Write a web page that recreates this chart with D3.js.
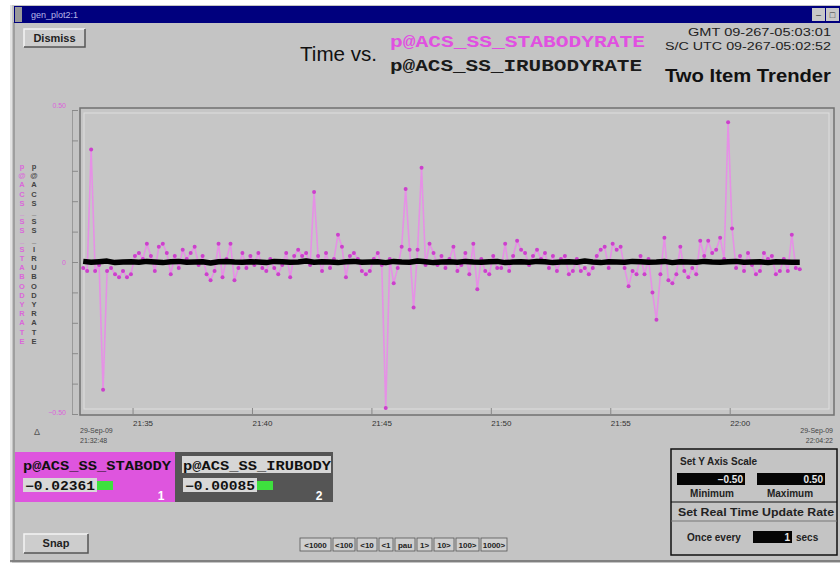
<!DOCTYPE html>
<html>
<head>
<meta charset="utf-8">
<script src="https://cdn.jsdelivr.net/npm/d3@7"></script>
<style>
  html, body { margin: 0; padding: 0; background: #ffffff; }
  svg { display: block; }
  text { font-family: "Liberation Sans", Arial, sans-serif; }
  .mono { font-family: "Liberation Mono", "DejaVu Sans Mono", monospace; font-weight: bold; }
</style>
</head>
<body>
<svg id="chart" width="840" height="564"></svg>
<script>
// ---- telemetry items ----
const itemNames = ["p@ACS_SS_STABODYRATE", "p@ACS_SS_IRUBODYRATE"];
const itemShort = ["p@ACS_SS_STABODY", "p@ACS_SS_IRUBODY"];

// time window of the trend plot (29-Sep-2009)
const windowStart = [2009, 8, 29, 21, 32, 48];
const windowEnd   = [2009, 8, 29, 22, 4, 22];

// STA body rate samples, every 10 s from 21:32:56
const staStart = [2009, 8, 29, 21, 32, 56];
const staStepSec = 10;
const staValues = [
  -0.02,-0.03, 0.37,-0.03,-0.01,-0.42,-0.03,-0.02,-0.04,-0.05,
  -0.03,-0.05,-0.04, 0.02, 0.03, 0.01, 0.06, 0.02,-0.03, 0.05,
   0.06, 0.03,-0.04, 0.02,-0.02, 0.04, 0.01, 0.03, 0.05,-0.01,
   0.02,-0.04,-0.06,-0.03, 0.06,-0.05, 0.01, 0.06,-0.06,-0.02,
   0.03,-0.02, 0.02,-0.01, 0.03,-0.02,-0.03, 0.01,-0.02,-0.04,
  -0.01, 0.03,-0.05, 0.02, 0.04, 0.02, 0.03,-0.01, 0.23, 0.02,
  -0.03, 0.03,-0.02, 0.01, 0.09, 0.05,-0.05, 0.02, 0.03, 0.01,
  -0.03,-0.04,-0.03, 0.01, 0.03,-0.01,-0.48, 0.01,-0.07,-0.02,
   0.05, 0.24, 0.04,-0.15, 0.04, 0.31,-0.01, 0.06, 0.03,-0.01,
   0.02,-0.02, 0.01, 0.05,-0.03,-0.01, 0.03,-0.04, 0.06,-0.09,
   0.01,-0.03,-0.04, 0.02,-0.02,-0.02, 0.06,-0.03, 0.02, 0.07,
   0.04, 0.03,-0.01, 0.02, 0.04, 0.01, 0.03,-0.02, 0.02,-0.03,
   0.01, 0.02,-0.04,-0.03, 0.01,-0.03,-0.02,-0.04,-0.02, 0.02,
   0.04, 0.05,-0.02, 0.06, 0.04, 0.05,-0.02,-0.08,-0.03,-0.04,
   0.02,-0.04, 0.01,-0.10,-0.19,-0.04, 0.08,-0.06,-0.07,-0.04,
   0.05,-0.03,-0.05,-0.02,-0.04, 0.07, 0.02, 0.07, 0.03, 0.04,
   0.08, 0.01, 0.46, 0.11,-0.02, 0.02,-0.03, 0.03,-0.01,-0.04,
  -0.03, 0.03, 0.01, 0.02,-0.04,-0.03, 0.01,-0.03, 0.09,-0.02,
  -0.02361
];

// IRU body rate samples, every 20 s from 21:32:56
const iruStart = [2009, 8, 29, 21, 32, 56];
const iruStepSec = 20;
const iruValues = [
   0.002,-0.001, 0.001, 0.003,-0.002, 0.000, 0.001,-0.001, 0.002, 0.000,
  -0.002, 0.001, 0.002,-0.001, 0.000, 0.001,-0.003, 0.001, 0.002, 0.000,
  -0.001, 0.001, 0.000,-0.002, 0.002, 0.001,-0.001, 0.000, 0.003,-0.001,
   0.001, 0.000,-0.002, 0.001, 0.002,-0.001, 0.000, 0.001,-0.002, 0.002,
   0.000,-0.001, 0.003, 0.001,-0.002, 0.000, 0.001,-0.001, 0.002, 0.000,
  -0.001, 0.001, 0.002,-0.002, 0.000, 0.001,-0.001, 0.002, 0.001,-0.002,
   0.000, 0.001,-0.001, 0.003, 0.000,-0.002, 0.001, 0.000,-0.001, 0.002,
   0.001,-0.001, 0.000, 0.002,-0.002, 0.001, 0.000,-0.001, 0.002, 0.000,
  -0.001, 0.001, 0.002,-0.001, 0.000, 0.001,-0.002, 0.001, 0.000,-0.001,
  -0.00085
];

// y scale limits and header clocks
const yMin = -0.5, yMax = 0.5;
const yLabels = [0.5, 0, -0.5];
const gmtText = "GMT 09-267-05:03:01";
const scText = "S/C UTC 09-267-05:02:52";
const stepButtons = ["<1000", "<100", "<10", "<1", "pau", "1>", "10>", "100>", "1000>"];
const updateSecs = "1";

// ---- drawing ----
const mkDate = a => new Date(a[0], a[1], a[2], a[3], a[4], a[5]);
const staData = staValues.map((v, i) => ({ t: new Date(mkDate(staStart).getTime() + i * staStepSec * 1000), v }));
const iruData = iruValues.map((v, i) => ({ t: new Date(mkDate(iruStart).getTime() + i * iruStepSec * 1000), v }));

const svg = d3.select("#chart");
const GRAY = "#c4c4c4", PINK = "#de55de", PINK_TXT = "#e050e0";

// window body
svg.append("rect").attr("x", 10).attr("y", 5).attr("width", 830).attr("height", 558).attr("fill", GRAY);
svg.append("line").attr("x1", 11).attr("x2", 11).attr("y1", 5).attr("y2", 563).attr("stroke", "#eeeeee").attr("stroke-width", 1.5);
svg.append("line").attr("x1", 14).attr("x2", 14).attr("y1", 22).attr("y2", 560).attr("stroke", "#7a7a7a");
svg.append("line").attr("x1", 10).attr("x2", 840).attr("y1", 561).attr("y2", 561).attr("stroke", "#6a6a6a").attr("stroke-width", 1.5);

// title bar
svg.append("rect").attr("x", 14).attr("y", 6).attr("width", 826).attr("height", 17).attr("fill", "#00007e");
svg.append("rect").attr("x", 15).attr("y", 7).attr("width", 7).attr("height", 15).attr("fill", "#9a9a9a");
svg.append("text").attr("x", 31).attr("y", 18).attr("font-size", 9).attr("fill", "#b8b8e8").text("gen_plot2:1");
[[812, "–"], [826, "□"]].forEach(([bx, g]) => {
  svg.append("rect").attr("x", bx).attr("y", 8).attr("width", 13).attr("height", 13).attr("fill", "#c8c8c8");
  svg.append("text").attr("x", bx + 6.5).attr("y", 18).attr("font-size", 9).attr("text-anchor", "middle").attr("fill", "#333").text(g);
});

// bevelled button helper
function button(x, y, w, h, label, fs) {
  const g = svg.append("g");
  g.append("rect").attr("x", x).attr("y", y).attr("width", w).attr("height", h).attr("fill", "#cdcdcd");
  g.append("path").attr("d", `M${x},${y + h}V${y}H${x + w}`).attr("fill", "none").attr("stroke", "#f4f4f4").attr("stroke-width", 1.5);
  g.append("path").attr("d", `M${x},${y + h}H${x + w}V${y}`).attr("fill", "none").attr("stroke", "#555").attr("stroke-width", 1.5);
  g.append("text").attr("x", x + w / 2).attr("y", y + h / 2 + fs * 0.36).attr("text-anchor", "middle")
    .attr("font-size", fs).attr("font-weight", "bold").attr("fill", "#222")
    .attr("font-family", "'Liberation Serif', serif").text(label);
}
button(24, 29, 61, 18, "Dismiss", 11);
button(24, 534, 64, 19, "Snap", 11);

// header
svg.append("text").attr("x", 300).attr("y", 61).attr("font-size", 20).attr("fill", "#111")
  .attr("textLength", 77).attr("lengthAdjust", "spacingAndGlyphs").text("Time vs.");
svg.append("text").attr("class", "mono").attr("x", 390).attr("y", 47).attr("font-size", 17).attr("fill", PINK_TXT)
  .attr("textLength", 255).attr("lengthAdjust", "spacingAndGlyphs").text(itemNames[0]);
svg.append("text").attr("class", "mono").attr("x", 390).attr("y", 71).attr("font-size", 17).attr("fill", "#1a1a1a")
  .attr("textLength", 252).attr("lengthAdjust", "spacingAndGlyphs").text(itemNames[1]);
svg.append("text").attr("x", 831).attr("y", 36).attr("font-size", 10).attr("text-anchor", "end").attr("fill", "#222")
  .attr("textLength", 143).attr("lengthAdjust", "spacingAndGlyphs").text(gmtText);
svg.append("text").attr("x", 831).attr("y", 50).attr("font-size", 10).attr("text-anchor", "end").attr("fill", "#222")
  .attr("textLength", 166).attr("lengthAdjust", "spacingAndGlyphs").text(scText);
svg.append("text").attr("x", 831).attr("y", 82).attr("font-size", 19).attr("font-weight", "bold").attr("text-anchor", "end").attr("fill", "#111")
  .attr("textLength", 166).attr("lengthAdjust", "spacingAndGlyphs").text("Two Item Trender");

// vertical item names along the left side
[[itemNames[0], 22, PINK_TXT], [itemNames[1], 34, "#222"]].forEach(([name, cx, col]) => {
  svg.append("g").selectAll("text").data(name.split("")).join("text")
    .attr("x", cx).attr("y", (d, i) => 169 + i * 9.2).attr("text-anchor", "middle")
    .attr("font-size", 7.5).attr("font-weight", "bold").attr("fill", col).attr("opacity", 0.8)
    .text(d => d);
});

// scales
const x = d3.scaleTime().domain([mkDate(windowStart), mkDate(windowEnd)]).range([80, 834]);
const y = d3.scaleLinear().domain([yMin, yMax]).range([414, 110]);

// plot frame
svg.append("rect").attr("x", 80).attr("y", 108).attr("width", 754).attr("height", 307)
  .attr("fill", "#c6c6c6").attr("stroke", "#707070").attr("stroke-width", 1.5);
svg.append("rect").attr("x", 84).attr("y", 113).attr("width", 745).attr("height", 296)
  .attr("fill", "none").attr("stroke", "#dedede").attr("stroke-width", 1);

// y axis (gray rule with ticks every 0.1)
const yAxis = svg.append("g").attr("transform", "translate(72,0)")
  .call(d3.axisRight(y).ticks(10).tickSize(6).tickFormat(""));
yAxis.select(".domain").attr("stroke", "#9a9a9a");
yAxis.selectAll(".tick line").attr("stroke", "#8a8a8a");
svg.append("g").selectAll("text").data(yLabels).join("text")
  .attr("x", 66).attr("y", d => y(d) + (d > 0 ? -2 : d < 0 ? 1 : 3)).attr("text-anchor", "end")
  .attr("font-size", 7).attr("fill", PINK_TXT).attr("opacity", 0.85)
  .text(d => d === 0 ? "0" : d3.format(".2f")(d));

// x axis: 5-minute ticks, labels starting at the tick
const xAxis = svg.append("g").attr("transform", "translate(0,415)")
  .call(d3.axisBottom(x).ticks(d3.timeMinute.every(5)).tickSize(-7).tickFormat(d3.timeFormat("%H:%M")));
xAxis.select(".domain").remove();
xAxis.selectAll(".tick line").attr("stroke", "#888");
xAxis.selectAll(".tick text").attr("text-anchor", "start").attr("x", 0).attr("dy", 0).attr("y", 11)
  .attr("font-size", 8).attr("fill", "#333").attr("font-family", "'Liberation Sans', sans-serif");

const dateFmt = d3.timeFormat("%d-%b-%y"), clockFmt = d3.timeFormat("%H:%M:%S");
[[mkDate(windowStart), 80, "start"], [mkDate(windowEnd), 833, "end"]].forEach(([d, tx, anchor]) => {
  svg.append("text").attr("x", tx).attr("y", 433).attr("font-size", 7).attr("text-anchor", anchor).attr("fill", "#444").text(dateFmt(d));
  svg.append("text").attr("x", tx).attr("y", 443).attr("font-size", 7).attr("text-anchor", anchor).attr("fill", "#444").text(clockFmt(d));
});
svg.append("text").attr("x", 37).attr("y", 435).attr("font-size", 9).attr("text-anchor", "middle").attr("fill", "#555").text("Δ");

// series
const line = d3.line().x(d => x(d.t)).y(d => y(d.v));
svg.append("path").datum(staData).attr("d", line).attr("fill", "none")
  .attr("stroke", "#e690e6").attr("stroke-width", 1.6);
svg.append("g").selectAll("circle").data(staData).join("circle")
  .attr("cx", d => x(d.t)).attr("cy", d => y(d.v)).attr("r", 2).attr("fill", "#cc40cc");
svg.append("path").datum(iruData).attr("d", line).attr("fill", "none")
  .attr("stroke", "#000").attr("stroke-width", 5.5).attr("stroke-linejoin", "round");

// current-value panels
const panels = [
  { x: 15, w: 160, bg: PINK, name: itemShort[0], val: staValues[staValues.length - 1], num: "1", labBg: null },
  { x: 175, w: 158, bg: "#555555", name: itemShort[1], val: iruValues[iruValues.length - 1], num: "2", labBg: "#d6d6d6" }
];
const valFmt = d3.format(".5f");
panels.forEach(p => {
  svg.append("rect").attr("x", p.x).attr("y", 452).attr("width", p.w).attr("height", 50).attr("fill", p.bg);
  if (p.labBg) svg.append("rect").attr("x", p.x + 7).attr("y", 456).attr("width", p.w - 9).attr("height", 17).attr("fill", p.labBg);
  svg.append("text").attr("class", "mono").attr("x", p.x + 8).attr("y", 470).attr("font-size", 12).attr("fill", "#111")
    .attr("textLength", 148).attr("lengthAdjust", "spacingAndGlyphs").text(p.name);
  svg.append("rect").attr("x", p.x + 8).attr("y", 478).attr("width", 74).attr("height", 14).attr("fill", "#d8d8d8");
  svg.append("rect").attr("x", p.x + 82).attr("y", 481).attr("width", 16).attr("height", 9).attr("fill", "#3ee03e");
  svg.append("text").attr("class", "mono").attr("x", p.x + 10).attr("y", 490).attr("font-size", 12).attr("fill", "#111")
    .attr("textLength", 70).attr("lengthAdjust", "spacingAndGlyphs").text(valFmt(p.val).replace("-", "−"));
  svg.append("text").attr("x", p.x + p.w - 14).attr("y", 500).attr("font-size", 12).attr("font-weight", "bold")
    .attr("fill", "#ffffff").attr("text-anchor", "middle").text(p.num);
});

// playback step buttons
const bw = [33, 24, 22, 16, 22, 17, 22, 25, 28];
let bx = 300;
stepButtons.forEach((lab, i) => {
  svg.append("rect").attr("x", bx).attr("y", 538).attr("width", bw[i] - 2).attr("height", 13)
    .attr("fill", "#cfcfcf").attr("stroke", "#555").attr("stroke-width", 0.8);
  svg.append("text").attr("x", bx + (bw[i] - 2) / 2).attr("y", 548).attr("text-anchor", "middle")
    .attr("font-size", 8).attr("font-weight", "bold").attr("fill", "#222").text(lab);
  bx += bw[i];
});

// y-axis scale / update-rate panel
svg.append("rect").attr("x", 671).attr("y", 449).attr("width", 166).attr("height", 106)
  .attr("fill", "none").attr("stroke", "#111").attr("stroke-width", 1.5);
svg.append("line").attr("x1", 671).attr("x2", 837).attr("y1", 502).attr("y2", 502).attr("stroke", "#111").attr("stroke-width", 1.2);
svg.append("line").attr("x1", 671).attr("x2", 837).attr("y1", 521).attr("y2", 521).attr("stroke", "#777").attr("stroke-width", 1);
svg.append("text").attr("x", 680).attr("y", 465).attr("font-size", 10).attr("font-weight", "bold").attr("fill", "#222").text("Set Y Axis Scale");
[[677, yMin, 712, "Minimum"], [757, yMax, 790, "Maximum"]].forEach(([fx, v, cx, lab]) => {
  svg.append("rect").attr("x", fx).attr("y", 473).attr("width", 68).attr("height", 12).attr("fill", "#050505");
  svg.append("text").attr("x", fx + 66).attr("y", 483).attr("font-size", 10).attr("font-weight", "bold")
    .attr("text-anchor", "end").attr("fill", "#e8e8e8").text(d3.format(".2f")(v));
  svg.append("text").attr("x", cx).attr("y", 497).attr("font-size", 10).attr("font-weight", "bold")
    .attr("text-anchor", "middle").attr("fill", "#222").text(lab);
});
svg.append("text").attr("x", 678).attr("y", 516).attr("font-size", 10).attr("font-weight", "bold").attr("fill", "#222")
  .attr("textLength", 156).attr("lengthAdjust", "spacingAndGlyphs").text("Set Real Time Update Rate");
svg.append("text").attr("x", 687).attr("y", 541).attr("font-size", 10).attr("font-weight", "bold").attr("fill", "#222").text("Once every");
svg.append("rect").attr("x", 753).attr("y", 531).attr("width", 39).attr("height", 12).attr("fill", "#050505");
svg.append("text").attr("x", 790).attr("y", 541).attr("font-size", 10).attr("font-weight", "bold").attr("text-anchor", "end").attr("fill", "#e8e8e8").text(updateSecs);
svg.append("text").attr("x", 796).attr("y", 541).attr("font-size", 10).attr("font-weight", "bold").attr("fill", "#222").text("secs");
</script>
</body>
</html>
